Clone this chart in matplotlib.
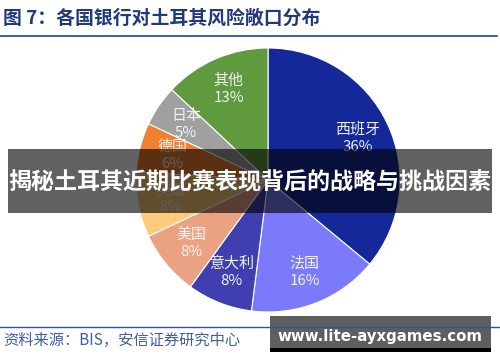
import matplotlib
matplotlib.use("Agg")
import matplotlib.pyplot as plt
from matplotlib.patches import Rectangle

plt.rcParams['font.family'] = ['Noto Sans CJK SC', 'DejaVu Sans']

# data
countries = ["西班牙", "法国", "意大利", "美国", "英国", "德国", "日本", "其他"]
shares = [36, 16, 8, 8, 8, 6, 5, 13]
colors = ["#14289A", "#7A7AFA", "#3F3FAF", "#EBA283", "#FFCB7A", "#F08030", "#A0A0A0", "#5F9A3F"]

title = "图 7：各国银行对土耳其风险敞口分布"
source = "资料来源：BIS，安信证券研究中心"
banner = "揭秘土耳其近期比赛表现背后的战略与挑战因素"
site = "www.lite-ayxgames.com"

W, H = 500, 362
fig = plt.figure(figsize=(W / 100, H / 100), dpi=100)

# pie axes, centre (268, 180) px, radius 132 px
cx, cy, r = 268, 180, 132
pax = fig.add_axes([(cx - r) / W, (H - cy - r) / H, 2 * r / W, 2 * r / H])
wedges, texts, autotexts = pax.pie(
    shares, colors=colors, startangle=90, counterclock=False,
    autopct="%d%%", pctdistance=0.75, radius=1.0,
    wedgeprops=dict(edgecolor="white", linewidth=0.8),
    textprops=dict(color="#F2F2F2", fontsize=10.8),
)
for name, t in zip(countries, autotexts):
    t.set_text(name + "\n" + t.get_text())
    t.set_linespacing(1.25)
pax.set_xlim(-1, 1)
pax.set_ylim(-1, 1)
pax.set_aspect("equal")
pax.axis("off")

# overlay axes in pixel coordinates
ax = fig.add_axes([0, 0, 1, 1])
ax.set_xlim(0, W)
ax.set_ylim(H, 0)
ax.axis("off")
ax.set_zorder(5)
ax.patch.set_alpha(0)

ax.text(3, 18, title, fontsize=13.6, fontweight="bold", color="#1F3A7A",
        va="center", ha="left")
ax.plot([0, 497], [36, 36], color="#2F5597", lw=1.3)

# dark banner over the pie
ax.add_patch(Rectangle((8, 149), 484, 64, color="black", alpha=0.62, lw=0))
ax.text(250, 182, banner, fontsize=16.6, fontweight="bold", color="white",
        va="center", ha="center")

# watermark box
ax.add_patch(Rectangle((270, 316), 221, 33, color="#5E5E5E", lw=0))
ax.add_patch(Rectangle((270, 348), 221, 4, color="black", lw=0))
ax.text(380, 337, site, fontsize=10.8, fontweight="bold", color="white",
        va="center", ha="center", family="DejaVu Sans")
ax.plot([0, 500], [327, 327], color="#2F5597", lw=1.0)

ax.text(3, 340, source, fontsize=11, style="italic", color="#3F5FA0",
        va="center", ha="left")

fig.savefig("out.png", dpi=100)
